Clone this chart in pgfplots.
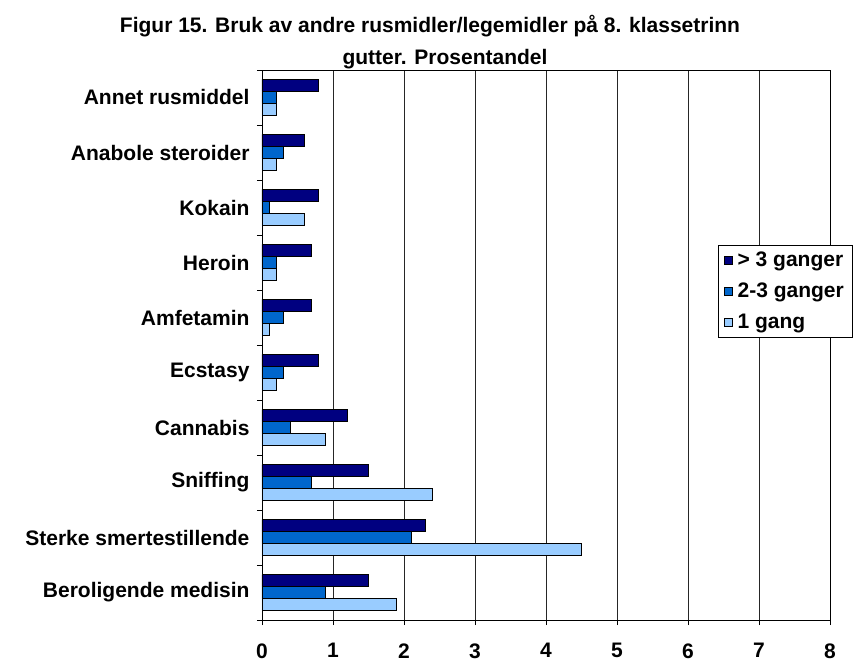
\documentclass[border=0pt]{standalone}
\usepackage{fontspec}
\setmainfont{Liberation Sans}
\usepackage{pgfplots}
\pgfplotsset{compat=1.18}
\definecolor{c1}{HTML}{000080}
\definecolor{c2}{HTML}{0066CC}
\definecolor{c3}{HTML}{99CCFF}
\begin{document}
\begin{tikzpicture}[x=1pt,y=1pt]
\clip (-262,-44) rectangle (591,620);
\begin{axis}[
 at={(0,0)}, anchor=south west,
 scale only axis, width=568pt, height=550pt,
 xmin=0, xmax=8, ymin=-0.5, ymax=9.5,
 xtick={0,...,8},
 xmajorgrids, grid style={black!85, line width=0.7pt},
 ytick={0,...,9},
 yticklabels={Beroligende medisin, Sterke smertestillende, Sniffing, Cannabis, Ecstasy, Amfetamin, Heroin, Kokain, Anabole steroider, Annet rusmiddel},
 major y tick style={draw=none},
 minor ytick={-0.5,0.5,...,9.5},
 tick align=outside, tick pos=left,
 major tick length=5pt, minor tick length=5pt,
 tick style={black, line width=0.7pt},
 axis line style={black, line width=0.8pt},
 xbar, bar width=12pt,
 ticklabel style={font=\bfseries\fontsize{21}{24}\selectfont},
 xticklabel style={yshift=-15pt},
 yticklabel style={xshift=-4pt},
 /pgf/number format/assume math mode=true,
 legend style={at={(0.803,0.682)}, anchor=north west, font=\bfseries\fontsize{21}{24}\selectfont, draw=black, fill=white, row sep=11pt, inner xsep=6pt, inner ysep=5pt, cells={anchor=west}},
 legend image code/.code={\draw[#1, line width=0.6pt] (0pt,-4pt) rectangle (8pt,4pt); \path[draw=none, fill=none] (0pt,0pt) -- (11pt,0pt);},
]
\addplot[fill=c1, draw=black, line width=0.8pt, bar shift=12pt] coordinates {(1.5,0) (2.3,1) (1.5,2) (1.2,3) (0.8,4) (0.7,5) (0.7,6) (0.8,7) (0.6,8) (0.8,9)};
\addplot[fill=c2, draw=black, line width=0.8pt, bar shift=0pt] coordinates {(0.9,0) (2.1,1) (0.7,2) (0.4,3) (0.3,4) (0.3,5) (0.2,6) (0.1,7) (0.3,8) (0.2,9)};
\addplot[fill=c3, draw=black, line width=0.8pt, bar shift=-12pt] coordinates {(1.9,0) (4.5,1) (2.4,2) (0.9,3) (0.2,4) (0.1,5) (0.2,6) (0.6,7) (0.2,8) (0.2,9)};
\legend{> 3 ganger, 2-3 ganger, 1 gang}
\end{axis}
\node[font=\bfseries\fontsize{21}{24}\selectfont, anchor=base] at (168,587) {Figur 15. Bruk av andre rusmidler/legemidler på 8. klassetrinn};
\node[font=\bfseries\fontsize{21}{24}\selectfont, anchor=base] at (183,555) {gutter. Prosentandel};
\end{tikzpicture}
\end{document}
